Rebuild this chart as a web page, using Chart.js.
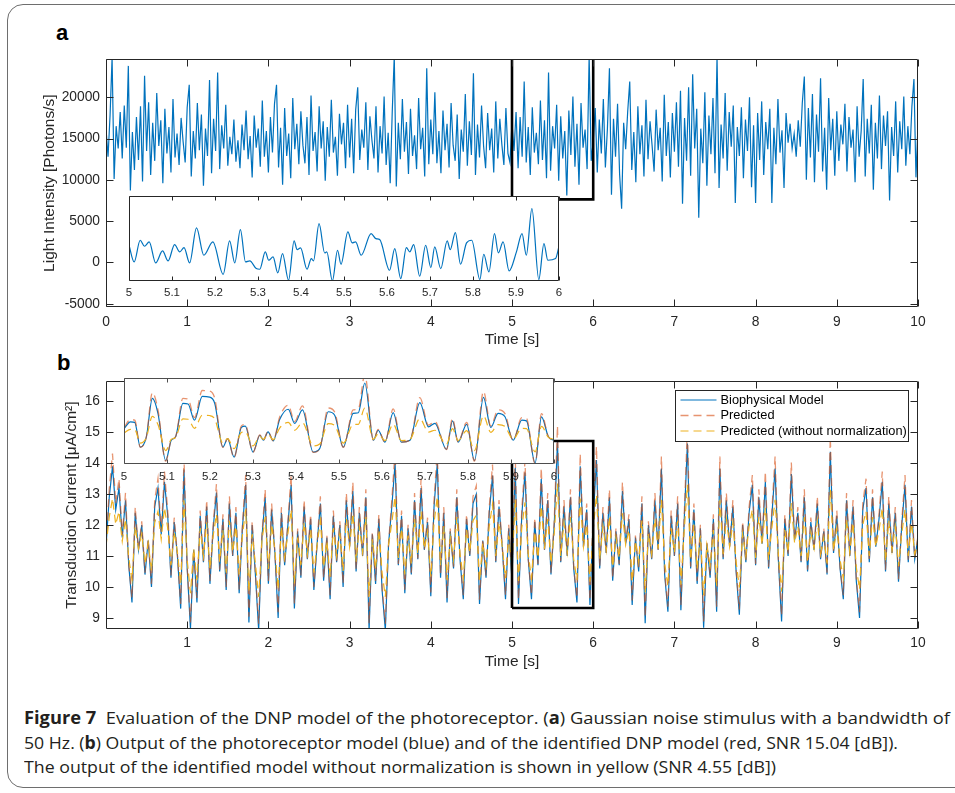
<!DOCTYPE html>
<html>
<head>
<meta charset="utf-8">
<script src="https://cdn.jsdelivr.net/npm/chart.js@4.4.1/dist/chart.umd.min.js"></script>
<style>
  html, body { margin: 0; padding: 0; background: #fff; }
  body { width: 955px; height: 793px; position: relative; overflow: hidden; font-family: "Liberation Sans", Arial, sans-serif; }
  canvas { position: absolute; }
  .border { position: absolute; left: 7px; top: 4px; width: 975px; height: 782px; border: 1.5px solid #6e6e6e; border-radius: 16px; }
  .panel { position: absolute; font-weight: bold; font-size: 22px; line-height: 22px; color: #000; }
  .cap { position: absolute; left: 24px; white-space: nowrap; font-family: "Open Sans", "Noto Sans", sans-serif; font-size: 17px; line-height: 20px; color: #231f20; transform-origin: 0 50%; }
</style>
</head>
<body>
<div class="border"></div>
<div class="panel" style="left:56px;top:22px">a</div>
<div class="panel" style="left:57px;top:352px">b</div>
<canvas id="mainA" width="955" height="312" style="left:0;top:45px"></canvas>
<canvas id="insetA" width="470" height="111" style="left:109px;top:196px"></canvas>
<canvas id="mainB" width="955" height="307" style="left:0;top:367px"></canvas>
<canvas id="insetB" width="470" height="114" style="left:104px;top:378px"></canvas>
<div class="cap" data-w="926" style="top:708px"><b>Figure 7</b>&nbsp; Evaluation of the DNP model of the photoreceptor. (<b>a</b>) Gaussian noise stimulus with a bandwidth of</div>
<div class="cap" data-w="874" style="top:733px">50 Hz. (<b>b</b>) Output of the photoreceptor model (blue) and of the identified DNP model (red, SNR 15.04 [dB]).</div>
<div class="cap" data-w="752" style="top:757px">The output of the identified model without normalization is shown in yellow (SNR 4.55 [dB])</div>
<script>
// ---- panel a: stimulus, sampled every 25 ms from 0 s
const stepA = 0.025;
const lightIntensity = [
  16200,12800,17800,24800,10100,16500,13800,18200,12600,19000,13900,23800,8700,15800,11200,17600,12400,18900,9800,22600,13500,19400,10600,16900,12300,20500,14100,17200,9600,18600,13200,16400,10900,19800,12700,15600,11800,17500,14600,12100,
  18800,21500,10400,15900,12600,19300,13600,17900,9300,16200,12900,22100,10800,17400,13500,23000,11300,16600,13800,19100,11700,15200,13100,17300,12200,14800,11400,16700,13600,18400,12500,15300,10300,17800,13900,16200,11600,19600,12800,15900,
  10900,17600,13300,19200,21500,11500,16300,9400,18700,12900,15600,10200,19900,13700,16800,11900,18300,14200,12000,17600,10600,20200,13500,15800,11000,18900,13800,17100,9900,16400,12800,19700,13300,15200,10500,18000,14300,16900,11400,19100,
  12700,17400,10800,18500,21200,12400,16100,13900,19400,11200,17700,14800,12600,18900,10900,16500,13200,20100,11800,15700,9600,18200,25000,9200,16900,12500,19800,13400,17000,10700,18600,12900,15400,11300,19900,13700,16300,10400,23500,11900,
  17300,13100,20600,12000,15900,10800,18400,13600,16800,11500,19300,14200,12300,17900,10100,16100,13400,20400,11700,17100,13000,22900,10600,16700,12700,19000,14100,11400,18100,13600,16200,10900,19500,12600,17400,14300,11800,18700,13200,12100,
  16900,13500,18200,11400,17600,12800,21900,12100,16400,10600,18800,13300,15700,11900,19600,12400,17200,10200,23000,11100,16500,13800,19100,9900,17700,12600,15900,8100,18400,13000,20100,11600,16800,9400,19300,13900,16100,11300,25000,12300,
  14600,18700,10900,17300,13200,19800,11500,16200,23500,8200,17400,12800,19200,10700,6500,16900,13700,18300,21900,11200,15800,9700,18900,13100,16600,10400,19700,12500,17100,14200,11000,18500,13600,16300,9800,20300,12900,17000,10300,18100,
  13400,19400,11600,20800,7100,17500,12300,21200,10500,22800,13800,18600,5400,16200,12000,20600,9300,17800,13100,19900,10800,25000,9000,16700,12600,20500,11100,18200,14000,19000,7200,16400,12900,18800,10200,17300,13500,20000,9100,16600,
  7200,18100,12400,19500,10600,17000,13700,18600,7200,16300,11900,19800,13300,16000,9000,18100,14500,16800,13800,15600,12800,17200,14000,19300,22500,10000,18700,12700,20400,9700,17900,13400,22300,11000,16300,8800,19900,13600,17400,10500,
  18300,12300,16700,14300,19200,11000,17600,13900,16100,9700,18900,12800,15900,22200,10400,17400,13200,19100,8800,16900,12600,20200,11300,17800,14100,18300,7500,16400,12900,19500,10900,17100,13700,20100,11700,16500,13100,18900,22200,10300,16700
];
const insetATime = [5.0,5.012,5.026,5.036,5.047,5.062,5.078,5.091,5.106,5.118,5.128,5.141,5.157,5.174,5.195,5.219,5.234,5.246,5.259,5.271,5.281,5.296,5.304,5.317,5.325,5.335,5.346,5.357,5.371,5.384,5.391,5.399,5.414,5.424,5.429,5.442,5.455,5.46,5.473,5.485,5.493,5.509,5.519,5.527,5.54,5.563,5.574,5.583,5.606,5.618,5.632,5.645,5.653,5.662,5.676,5.69,5.702,5.711,5.725,5.74,5.747,5.759,5.771,5.785,5.797,5.816,5.825,5.837,5.85,5.859,5.87,5.884,5.901,5.914,5.924,5.937,5.953,5.965,5.974,5.992,6.0];
const insetALight = [2040,40,2640,1920,2440,-80,1360,160,2120,1240,1760,-80,4120,840,2440,-1440,2560,-80,3920,40,160,-760,-840,1240,240,640,-1280,1040,-2160,2560,1520,1720,-840,440,160,4640,1120,1240,-2240,1440,-240,3640,2320,2440,840,3440,2840,2720,-960,1640,-1960,1760,1240,2120,-1680,2040,-640,1840,-760,2560,1520,3560,-240,2320,2640,-2080,960,-1160,3440,1120,2440,-1040,1240,3440,840,6440,-2080,2240,240,440,1920];
const zoomBoxAX = [5, 5, 6, 6];
const zoomBoxAY = [24600, 7630, 7630, 24600];
const xTicksA = [0,1,2,3,4,5,6,7,8,9,10];
const yTicksA = [-5000,0,5000,10000,15000,20000];

// ---- panel b: transduction current, sampled every 40 ms from 0 s
const stepB = 0.04;
const currentBio = [
  11.3,12.9,13.9,12.5,13.2,11.6,12.8,10.7,9.5,12.4, 11.2,12.0,10.4,11.5,10.0,12.6,13.2,11.7,13.4,12.3,
  10.3,12.1,11.0,9.3,13.8,10.6,8.65,11.2,9.5,12.3, 10.8,12.6,10.1,11.9,13.05,10.5,12.2,9.9,12.7,11.0,
  12.4,9.8,11.9,13.3,8.85,12.0,10.4,8.6,11.6,12.9, 10.1,12.5,11.1,9.0,12.4,10.7,12.0,13.3,9.3,11.8,
  10.3,12.6,10.9,12.2,9.9,11.4,12.7,10.2,11.6,9.6, 12.3,10.8,12.0,10.0,12.8,11.3,13.1,10.5,12.4,11.0,
  12.9,8.6,11.7,10.1,12.2,9.9,8.6,11.4,12.6,14.0, 10.7,12.3,9.8,11.9,10.4,12.8,10.9,13.2,11.2,12.1,
  9.7,12.6,14.0,10.3,12.4,9.5,11.8,10.6,12.9,10.9, 9.6,12.2,11.0,12.7,13.0,9.45,11.5,10.3,12.4,13.6,
  10.8,12.6,11.3,9.6,11.9,10.2,13.85,9.45,12.3,13.7, 10.9,9.6,12.1,10.7,13.5,11.2,12.8,10.4,12.0,14.7,
  10.8,12.6,11.0,12.9,10.6,9.5,13.9,11.3,12.5,9.42, 12.2,14.1,10.6,12.4,11.1,12.9,10.2,11.8,10.7,13.1,
  11.4,12.2,9.42,11.6,10.5,12.7,8.83,12.0,10.9,12.8, 11.2,13.83,10.4,9.2,12.3,11.0,12.7,9.25,12.1,14.64,
  10.6,12.5,10.1,11.9,8.68,11.4,10.3,12.2,9.2,13.83, 10.9,12.8,11.3,12.6,10.5,9.1,12.0,10.8,12.4,13.3,
  10.7,12.9,11.4,13.4,10.6,12.3,13.83,10.9,8.88,12.2, 11.0,13.65,11.5,12.4,10.8,12.9,10.5,12.1,11.2,12.7,
  10.9,11.8,10.4,14.37,11.1,12.3,10.6,9.6,12.8,11.0, 12.6,10.2,9.0,12.5,13.2,10.8,12.9,11.3,12.2,13.4,
  10.5,12.7,11.1,12.4,10.17,12.0,13.3,10.8,12.6,10.9,11.6
];
const currentPred = [
  11.32,13.16,14.31,12.70,13.5,11.66,13.04,10.74,9.64,12.58, 11.2,12.12,10.46,11.55,10.1,12.81,13.5,11.78,13.73,12.47,
  10.37,12.24,11.02,9.45,14.19,10.65,8.85,11.2,9.64,12.47, 10.83,12.81,10.19,12.01,13.33,10.56,12.35,10.0,12.93,11.02,
  12.58,9.91,12.01,13.62,9.04,12.12,10.46,8.81,11.66,13.16, 10.19,12.7,11.11,9.18,12.58,10.74,12.12,13.62,9.45,11.89,
  10.37,12.81,10.92,12.35,10.0,11.43,12.93,10.28,11.66,9.73, 12.47,10.83,12.12,10.1,13.04,11.32,13.39,10.56,12.58,11.02,
  13.16,8.81,11.78,10.19,12.35,10.0,8.81,11.43,12.81,14.42, 10.74,12.47,9.91,12.01,10.46,13.04,10.92,13.5,11.2,12.24,
  9.82,12.81,14.42,10.37,12.58,9.64,11.89,10.65,13.16,10.92, 9.73,12.35,11.02,12.93,13.27,9.59,11.55,10.37,12.58,13.96,
  10.83,12.81,11.32,9.73,12.01,10.28,14.25,9.59,12.47,14.08, 10.92,9.73,12.24,10.74,13.85,11.2,13.04,10.46,12.12,15.21,
  10.83,12.81,11.02,13.16,10.65,9.64,14.31,11.32,12.7,9.56, 12.35,14.54,10.65,12.58,11.11,13.16,10.28,11.89,10.74,13.39,
  11.43,12.35,9.56,11.66,10.56,12.93,9.02,12.12,10.92,13.04, 11.2,14.22,10.46,9.36,12.47,11.02,12.93,9.41,12.24,15.16,
  10.65,12.7,10.19,12.01,8.88,11.43,10.37,12.35,9.36,14.22, 10.92,13.04,11.32,12.81,10.56,9.27,12.12,10.83,12.58,13.62,
  10.74,13.16,11.43,13.73,10.65,12.47,14.22,10.92,9.07,12.35, 11.02,14.02,11.55,12.58,10.83,13.16,10.56,12.24,11.2,12.93,
  10.92,11.89,10.46,14.85,11.11,12.47,10.65,9.73,13.04,11.02, 12.81,10.28,9.18,12.7,13.5,10.83,13.16,11.32,12.35,13.73,
  10.56,12.93,11.11,12.58,10.25,12.12,13.62,10.83,12.81,10.92,11.66
];
const currentPredNoNorm = [
  11.3,12.26,12.86,12.02,12.44,11.48,12.2,10.94,10.22,11.96, 11.24,11.72,10.76,11.42,10.52,12.08,12.44,11.54,12.56,11.9,
  10.7,11.78,11.12,10.1,12.8,10.88,9.8,11.24,10.22,11.9, 11.0,12.08,10.58,11.66,12.35,10.82,11.84,10.46,12.14,11.12,
  11.96,10.4,11.66,12.5,9.83,11.72,10.76,9.68,11.48,12.26, 10.58,12.02,11.18,9.92,11.96,10.94,11.72,12.5,10.1,11.6,
  10.7,12.08,11.06,11.84,10.46,11.36,12.14,10.64,11.48,10.34, 11.9,11.0,11.72,10.52,12.2,11.3,12.38,10.82,11.96,11.12,
  12.26,9.68,11.54,10.58,11.84,10.46,9.68,11.36,12.08,12.92, 10.94,11.9,10.4,11.66,10.76,12.2,11.06,12.44,11.24,11.78,
  10.34,12.08,12.92,10.7,11.96,10.22,11.6,10.88,12.26,11.06, 10.28,11.84,11.12,12.14,12.32,10.19,11.42,10.7,11.96,12.68,
  11.0,12.08,11.3,10.28,11.66,10.64,12.83,10.19,11.9,12.74, 11.06,10.28,11.78,10.94,12.62,11.24,12.2,10.76,11.72,13.34,
  11.0,12.08,11.12,12.26,10.88,10.22,12.86,11.3,12.02,10.17, 11.84,12.98,10.88,11.96,11.18,12.26,10.64,11.6,10.94,12.38,
  11.36,11.84,10.17,11.48,10.82,12.14,9.82,11.72,11.06,12.2, 11.24,12.82,10.76,10.04,11.9,11.12,12.14,10.07,11.78,13.3,
  10.88,12.02,10.58,11.66,9.73,11.36,10.7,11.84,10.04,12.82, 11.06,12.2,11.3,12.08,10.82,9.98,11.72,11.0,11.96,12.5,
  10.94,12.26,11.36,12.56,10.88,11.9,12.82,11.06,9.85,11.84, 11.12,12.71,11.42,11.96,11.0,12.26,10.82,11.78,11.24,12.14,
  11.06,11.6,10.76,13.14,11.18,11.9,10.88,10.28,12.2,11.12, 12.08,10.64,9.92,12.02,12.44,11.0,12.26,11.3,11.84,12.56,
  10.82,12.14,11.18,11.96,10.68,11.72,12.5,11.0,12.08,11.06,11.48
];
const insetBTime = [5.0,5.015,5.025,5.038,5.052,5.066,5.079,5.097,5.11,5.12,5.137,5.149,5.164,5.182,5.199,5.211,5.23,5.241,5.256,5.273,5.282,5.3,5.316,5.324,5.335,5.347,5.362,5.382,5.397,5.415,5.44,5.455,5.475,5.49,5.51,5.533,5.545,5.56,5.58,5.591,5.607,5.626,5.645,5.665,5.688,5.708,5.723,5.75,5.764,5.777,5.797,5.815,5.836,5.853,5.87,5.886,5.905,5.925,5.936,5.956,5.971,5.987,6.0];
const insetBBio = [15.06,15.28,15.26,14.47,14.8,16.03,15.55,14.04,14.69,14.8,15.87,15.85,15.33,16.09,16.07,15.87,14.47,14.74,14.15,15.1,15.14,14.31,14.85,14.69,14.96,14.67,15.35,15.68,15.23,15.66,14.31,14.42,15.6,15.49,14.47,15.55,15.57,16.52,14.69,15.01,14.63,15.57,14.63,14.69,15.89,15.12,15.23,14.4,15.31,14.63,15.2,14.04,16.06,15.1,15.55,15.44,14.69,15.33,15.31,13.96,15.44,14.8,14.69];
const insetBPred = [15.10,15.35,15.33,14.46,14.8,16.21,15.66,14.02,14.69,14.8,16.03,16.01,15.41,16.28,16.26,16.03,14.46,14.74,14.13,15.15,15.19,14.3,14.86,14.69,14.98,14.67,15.43,15.81,15.29,15.79,14.3,14.41,15.72,15.59,14.46,15.66,15.69,16.78,14.69,15.04,14.63,15.69,14.63,14.69,16.05,15.17,15.29,14.39,15.39,14.63,15.26,14.02,16.25,15.15,15.66,15.54,14.69,15.41,15.39,13.94,15.54,14.8,14.69];
const insetBPredNoNorm = [14.92,15.04,15.03,14.6,14.78,15.45,15.19,14.36,14.72,14.78,15.37,15.36,15.07,15.49,15.48,15.37,14.6,14.74,14.42,14.94,14.96,14.51,14.81,14.72,14.87,14.71,15.08,15.26,15.01,15.25,14.51,14.57,15.22,15.16,14.6,15.19,15.2,15.72,14.72,14.89,14.68,15.2,14.68,14.72,15.38,14.95,15.01,14.56,15.06,14.68,15.0,14.36,15.47,14.94,15.19,15.13,14.72,15.07,15.06,14.32,15.13,14.78,14.72];
const zoomBoxBX = [5, 5, 6, 6, 5];
const zoomBoxBY = [9.32, 14.72, 14.72, 9.32, 9.32];
const xTicksB = [1,2,3,4,5,6,7,8,9,10];
const yTicksB = [9,10,11,12,13,14,15,16];
const insetTicks = [5,5.1,5.2,5.3,5.4,5.5,5.6,5.7,5.8,5.9,6];
const legendNames = ['Biophysical Model', 'Predicted', 'Predicted (without normalization)'];

const BLUE = '#0072BD', RED = 'rgba(217,83,25,0.62)', YELLOW = '#EDB120', AXIS = '#262626';
Chart.defaults.font.family = '"Liberation Sans", Arial, Helvetica, sans-serif';
Chart.defaults.color = AXIS;

// MATLAB-like box with inward ticks on all sides
const framePlugin = {
  id: 'frame',
  beforeDraw(chart, args, opts) {
    if (!opts.fill) return;
    const {ctx, chartArea: a} = chart;
    ctx.save();
    ctx.fillStyle = opts.fill;
    ctx.fillRect(a.left, a.top, a.width, a.height);
    ctx.restore();
  },
  afterDraw(chart, args, opts) {
    const {ctx, chartArea: a, scales: {x, y}} = chart;
    const L = Math.round(a.left) + 0.5, R = Math.round(a.right) - 0.5;
    const T = Math.round(a.top) + 0.5, B = Math.round(a.bottom) - 0.5;
    ctx.save();
    ctx.strokeStyle = opts.color;
    ctx.lineWidth = 1;
    ctx.beginPath();
    (opts.xTicks || []).forEach(v => {
      const px = Math.round(x.getPixelForValue(v)) + 0.5;
      ctx.moveTo(px, B); ctx.lineTo(px, B - opts.len);
      ctx.moveTo(px, T); ctx.lineTo(px, T + opts.len);
    });
    (opts.yTicks || []).forEach(v => {
      const py = Math.round(y.getPixelForValue(v)) + 0.5;
      ctx.moveTo(L, py); ctx.lineTo(L + opts.len, py);
      ctx.moveTo(R, py); ctx.lineTo(R - opts.len, py);
    });
    ctx.rect(L, T, R - L, B - T);
    ctx.stroke();
    ctx.restore();
  }
};

const legendPlugin = {
  id: 'boxLegend',
  afterDraw(chart) {
    const {ctx, chartArea: a} = chart;
    const w = 233, h = 51;
    const x0 = Math.round(a.right - 10 - w) + 0.5, y0 = Math.round(a.top + 9) + 0.5;
    ctx.save();
    ctx.fillStyle = '#fff';
    ctx.fillRect(x0, y0, w, h);
    ctx.beginPath();
    ctx.rect(x0, y0, w, h);
    ctx.clip();
    ctx.font = '12.8px "Liberation Sans", Arial, sans-serif';
    ctx.textBaseline = 'middle';
    legendNames.forEach((name, i) => {
      const ds = chart.data.datasets[i];
      const yy = y0 + 9.5 + i * 15.5;
      ctx.strokeStyle = ds.borderColor;
      ctx.lineWidth = ds.borderWidth;
      ctx.setLineDash(ds.borderDash || []);
      ctx.beginPath();
      ctx.moveTo(x0 + 5, yy); ctx.lineTo(x0 + 41, yy);
      ctx.stroke();
      ctx.fillStyle = '#000';
      ctx.fillText(name, x0 + 45, yy);
    });
    ctx.restore();
    ctx.save();
    ctx.strokeStyle = AXIS;
    ctx.lineWidth = 1;
    ctx.strokeRect(x0, y0, w, h);
    ctx.restore();
  }
};

function series(values, step) {
  return values.map((v, i) => ({x: i * step, y: v}));
}
function pairs(xs, ys) {
  return xs.map((v, i) => ({x: v, y: ys[i]}));
}

function linearAxis(o) {
  return {
    type: 'linear', min: o.min, max: o.max, display: o.display !== false,
    afterBuildTicks: s => { s.ticks = o.ticks.map(v => ({value: v})); },
    afterFit: s => { if (o.w != null) s.width = o.w; if (o.h != null) s.height = o.h; },
    grid: {display: false, drawTicks: false},
    border: {display: false},
    ticks: {padding: o.pad, autoSkip: false, maxRotation: 0, color: AXIS, font: {size: o.size}, callback: v => String(v)},
    title: o.title ? {display: true, text: o.title, color: AXIS, font: {size: 15.5}, padding: o.titlePad} : {display: false}
  };
}

function baseOptions(padding, scales, frame) {
  return {
    responsive: false, animation: false, events: [],
    layout: {padding},
    plugins: {legend: {display: false}, tooltip: {enabled: false}, frame},
    scales
  };
}

// panel a, main axes
new Chart(document.getElementById('mainA'), {
  type: 'line',
  data: {datasets: [
    {data: series(lightIntensity, stepA), borderColor: BLUE, borderWidth: 1.2, pointRadius: 0, tension: 0, order: 1},
    {data: pairs(zoomBoxAX, zoomBoxAY), borderColor: '#000', borderWidth: 2.6, pointRadius: 0, tension: 0, order: 0}
  ]},
  options: baseOptions({left: 0, top: 12, right: 37, bottom: 0}, {
    x: linearAxis({min: 0, max: 10, ticks: xTicksA, h: 50, pad: 6.5, size: 13.8, title: 'Time [s]', titlePad: {top: 0, bottom: 7.7}}),
    y: linearAxis({min: -5400, max: 24600, ticks: yTicksA, w: 106, pad: 6, size: 13.8, title: 'Light Intensity [Photons/s]', titlePad: {top: 40.7, bottom: 0}})
  }, {color: AXIS, len: 7, xTicks: xTicksA, yTicks: yTicksA}),
  plugins: [framePlugin]
});

// panel a, zoomed inset 5-6 s
new Chart(document.getElementById('insetA'), {
  type: 'line',
  data: {datasets: [
    {data: pairs(insetATime, insetALight), borderColor: BLUE, borderWidth: 1.2, pointRadius: 0, cubicInterpolationMode: 'monotone'}
  ]},
  options: baseOptions({left: 20, top: 0, right: 20, bottom: 0}, {
    x: linearAxis({min: 5, max: 6, ticks: insetTicks, h: 26, pad: 5.4, size: 11.5}),
    y: linearAxis({min: -2250, max: 7950, ticks: [], display: false})
  }, {color: AXIS, len: 4, fill: '#fff', xTicks: insetTicks}),
  plugins: [framePlugin]
});

// panel b, main axes
new Chart(document.getElementById('mainB'), {
  type: 'line',
  data: {datasets: [
    {data: series(currentBio, stepB), borderColor: BLUE, borderWidth: 1.2, pointRadius: 0, tension: 0, order: 3},
    {data: series(currentPred, stepB), borderColor: RED, borderWidth: 1.3, borderDash: [8, 5], pointRadius: 0, tension: 0, order: 2},
    {data: series(currentPredNoNorm, stepB), borderColor: YELLOW, borderWidth: 1.2, borderDash: [8, 5], pointRadius: 0, tension: 0, order: 1},
    {data: pairs(zoomBoxBX, zoomBoxBY), borderColor: '#000', borderWidth: 2.6, pointRadius: 0, tension: 0, order: 0}
  ]},
  options: baseOptions({left: 0, top: 12, right: 37, bottom: 0}, {
    x: linearAxis({min: 0, max: 10, ticks: xTicksB, h: 45, pad: 5.7, size: 13.8, title: 'Time [s]', titlePad: {top: 0, bottom: 3}}),
    y: linearAxis({min: 8.64, max: 16.65, ticks: yTicksB, w: 106, pad: 6, size: 13.8, title: 'Transduction Current [μA/cm²]', titlePad: {top: 62.7, bottom: 0}})
  }, {color: AXIS, len: 7, xTicks: xTicksB, yTicks: yTicksB}),
  plugins: [framePlugin, legendPlugin]
});

// panel b, zoomed inset 5-6 s
new Chart(document.getElementById('insetB'), {
  type: 'line',
  data: {datasets: [
    {data: pairs(insetBTime, insetBBio), borderColor: BLUE, borderWidth: 1.2, pointRadius: 0, cubicInterpolationMode: 'monotone', order: 3},
    {data: pairs(insetBTime, insetBPred), borderColor: RED, borderWidth: 1.3, borderDash: [8, 5], pointRadius: 0, cubicInterpolationMode: 'monotone', order: 2},
    {data: pairs(insetBTime, insetBPredNoNorm), borderColor: YELLOW, borderWidth: 1.2, borderDash: [8, 5], pointRadius: 0, cubicInterpolationMode: 'monotone', order: 1}
  ]},
  options: baseOptions({left: 20, top: 0, right: 20, bottom: 0}, {
    x: linearAxis({min: 5, max: 6, ticks: insetTicks, h: 28, pad: 6.1, size: 11.5}),
    y: linearAxis({min: 13.93, max: 16.68, ticks: [], display: false})
  }, {color: '#4d4d4d', len: 4, fill: '#fff', xTicks: insetTicks}),
  plugins: [framePlugin]
});

// caption lines are fitted to the widths in the figure
document.querySelectorAll('.cap').forEach(el => {
  const w = el.getBoundingClientRect().width;
  el.style.transform = `scaleX(${Number(el.dataset.w) / w})`;
});
</script>
</body>
</html>
